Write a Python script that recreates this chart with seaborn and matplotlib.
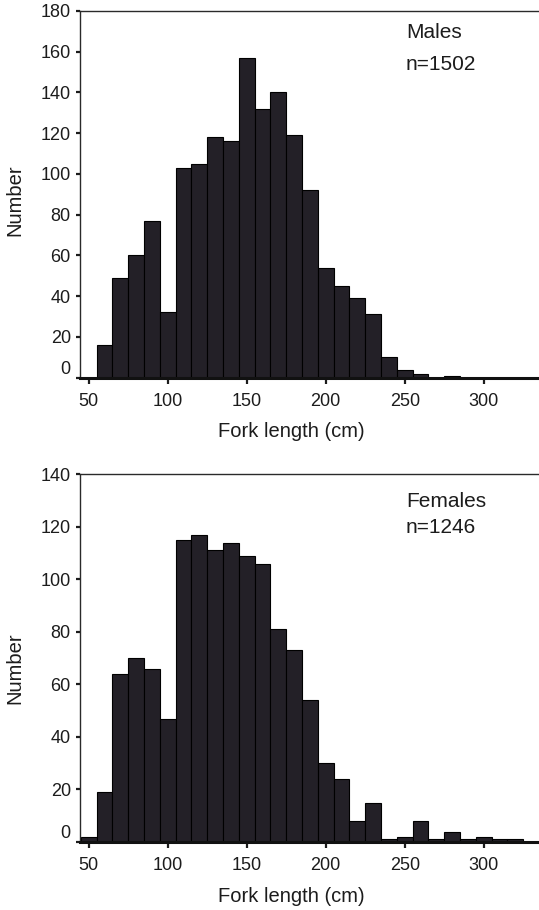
import numpy as np
import pandas as pd
import matplotlib
matplotlib.use("Agg")
import matplotlib.pyplot as plt
import matplotlib.transforms as mtransforms
import seaborn as sns

# ---- data (bin centres in cm, counts per 10-cm class) ----
bin_centres = [50, 60, 70, 80, 90, 100, 110, 120, 130, 140, 150, 160, 170, 180,
               190, 200, 210, 220, 230, 240, 250, 260, 270, 280, 290, 300, 310,
               320, 330]
male_counts = [0, 16, 49, 60, 77, 32, 103, 105, 118, 116, 157, 132, 140, 119,
               92, 54, 45, 39, 31, 10, 4, 2, 0, 1, 0, 0, 0, 0, 0]
female_counts = [2, 19, 64, 70, 66, 47, 115, 117, 111, 114, 109, 106, 81, 73,
                 54, 30, 24, 8, 15, 1, 2, 8, 1, 4, 1, 2, 1, 1, 0]
x_ticks = [50, 100, 150, 200, 250, 300]
male_y_ticks = [0, 20, 40, 60, 80, 100, 120, 140, 160, 180]
female_y_ticks = [0, 20, 40, 60, 80, 100, 120, 140]
panel_titles = ["Males", "Females"]
panel_n = ["n=1502", "n=1246"]
x_label = "Fork length (cm)"
y_label = "Number"

sns.set_theme(style="white")
plt.rcParams["font.family"] = ["Liberation Sans", "DejaVu Sans"]
TEXT = "#1c1c1c"
BAR = "#232027"

fig = plt.figure(figsize=(5.39, 9.10), dpi=100)
ax_m = fig.add_axes([0.149, 0.585, 0.851, 0.403])
ax_f = fig.add_axes([0.149, 0.0747, 0.851, 0.4041])

panels = [
    (ax_m, male_counts, male_y_ticks, 0.9255, 0.839, 0.4846),
    (ax_f, female_counts, female_y_ticks, 0.912, 0.8395, 0.473),
]

for i, (ax, counts, yt, ty1, ty2, ylab_y) in enumerate(panels):
    df = pd.DataFrame({"length": bin_centres, "count": counts})
    sns.histplot(data=df, x="length", weights="count", binwidth=10,
                 binrange=(45, 335), ax=ax,
                 color=BAR, edgecolor="black", linewidth=0.8, alpha=1.0)
    ax.set_xlim(44.7, 335)
    ax.set_ylim(0, yt[-1])
    ax.set_xticks(x_ticks)
    ax.set_yticks(yt)
    ax.set_xticklabels([str(v) for v in x_ticks])
    ax.set_yticklabels([str(v) for v in yt])
    ax.tick_params(axis="x", direction="out", length=4, width=1.6, pad=7,
                   labelsize=13, colors=TEXT, bottom=True)
    ax.tick_params(axis="y", direction="out", length=3, width=1.6, pad=3.8,
                   labelsize=13, colors=TEXT, left=True)
    for s in ["left", "top"]:
        ax.spines[s].set_visible(True)
        ax.spines[s].set_color("#2a2a2a")
        ax.spines[s].set_linewidth(1.0)
    ax.spines["bottom"].set_color("#111111")
    ax.spines["bottom"].set_linewidth(2.2)
    ax.spines["right"].set_visible(False)
    ax.set_xlabel(x_label, fontsize=14.5, color=TEXT)
    ax.set_ylabel(y_label, fontsize=14.5, color=TEXT)
    ax.xaxis.set_label_coords(0.461, -0.122)
    ax.yaxis.set_label_coords(-0.122, ylab_y)
    ax.text(0.710, ty1, panel_titles[i], transform=ax.transAxes, fontsize=15,
            color=TEXT, va="baseline", ha="left")
    ax.text(0.710, ty2, panel_n[i], transform=ax.transAxes, fontsize=15,
            color=TEXT, va="baseline", ha="left")
    ax.grid(False)

fig.canvas.draw()
for ax in (ax_m, ax_f):
    lab = ax.yaxis.get_major_ticks()[0].label1
    lab.set_transform(lab.get_transform() +
                      mtransforms.ScaledTranslation(0, 7.5 / 72, fig.dpi_scale_trans))

fig.savefig("out.png", dpi=100, facecolor="white")
